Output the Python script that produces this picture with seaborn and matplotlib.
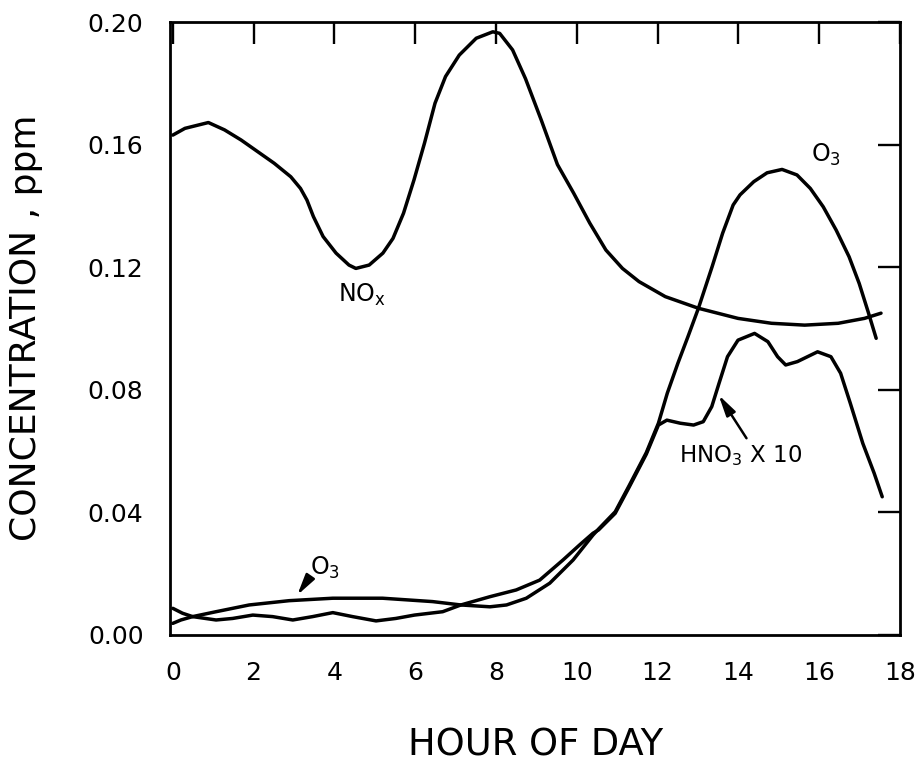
import matplotlib
matplotlib.use("Agg")
import matplotlib.pyplot as plt
import seaborn as sns
import pandas as pd

# ---- data ----
nox_hour = [0.0, 0.30, 0.88, 1.28, 1.69, 2.10, 2.51, 2.92, 3.16, 3.32, 3.48, 3.72, 4.04,
            4.36, 4.53, 4.86, 5.20, 5.45, 5.71, 5.97, 6.23, 6.49, 6.75, 7.09, 7.51, 7.92,
            8.09, 8.41, 8.73, 9.12, 9.52, 9.92, 10.32, 10.72, 11.13, 11.54, 12.19, 13.01,
            13.99, 14.82, 15.64, 16.47, 17.12, 17.53]
nox_ppm = [0.1631, 0.1653, 0.1672, 0.1648, 0.1615, 0.1577, 0.1539, 0.1495, 0.1457, 0.1419,
           0.1365, 0.1300, 0.1246, 0.1207, 0.1196, 0.1207, 0.1246, 0.1294, 0.1376, 0.1485,
           0.1605, 0.1735, 0.1822, 0.1892, 0.1947, 0.1968, 0.1963, 0.1909, 0.1815, 0.1680,
           0.1535, 0.1442, 0.1344, 0.1256, 0.1196, 0.1153, 0.1104, 0.1066, 0.1033, 0.1017,
           0.1011, 0.1017, 0.1033, 0.1050]

o3_hour = [0.0, 0.20, 0.49, 1.07, 1.89, 2.88, 3.96, 5.19, 6.43, 7.13, 7.85, 8.26, 8.75,
           9.33, 9.91, 10.40, 10.54, 10.95, 11.29, 11.72, 12.02, 12.24, 12.50, 12.75,
           13.01, 13.35, 13.61, 13.87, 14.04, 14.38, 14.71, 15.08, 15.45, 15.78, 16.10,
           16.42, 16.74, 16.99, 17.21, 17.41]
o3_ppm = [0.0038, 0.0049, 0.0060, 0.0076, 0.0098, 0.0112, 0.0120, 0.0120, 0.0109, 0.0098,
          0.0092, 0.0098, 0.0120, 0.0169, 0.0245, 0.0326, 0.0346, 0.0402, 0.0486, 0.0595,
          0.0691, 0.0789, 0.0886, 0.0973, 0.1066, 0.1202, 0.1311, 0.1403, 0.1436, 0.1479,
          0.1508, 0.1519, 0.1501, 0.1457, 0.1397, 0.1321, 0.1234, 0.1147, 0.1055, 0.0968]

hno3_hour = [0.0, 0.24, 0.49, 1.07, 1.48, 1.98, 2.47, 2.97, 3.46, 3.96, 4.45, 5.03, 5.52,
             5.98, 6.68, 7.13, 7.85, 8.50, 9.08, 9.66, 10.07, 10.40, 10.54, 10.95, 11.29,
             11.72, 12.02, 12.23, 12.56, 12.89, 13.13, 13.34, 13.52, 13.73, 13.99, 14.40,
             14.73, 14.97, 15.17, 15.46, 15.96, 16.29, 16.53, 16.77, 17.08, 17.36, 17.56]
hno3_ppm = [0.0087, 0.0071, 0.0060, 0.0049, 0.0054, 0.0065, 0.0060, 0.0049, 0.0060, 0.0073,
            0.0060, 0.0046, 0.0054, 0.0065, 0.0076, 0.0098, 0.0125, 0.0147, 0.0179, 0.0245,
            0.0294, 0.0332, 0.0343, 0.0397, 0.0481, 0.0590, 0.0685, 0.0701, 0.0691, 0.0685,
            0.0696, 0.0745, 0.0821, 0.0908, 0.0962, 0.0984, 0.0957, 0.0908, 0.0881, 0.0892,
            0.0924, 0.0908, 0.0854, 0.0756, 0.0625, 0.0528, 0.0451]

x_ticks = [0, 2, 4, 6, 8, 10, 12, 14, 16, 18]
y_ticks = [0.00, 0.04, 0.08, 0.12, 0.16, 0.20]
y_tick_labels = ["0.00", "0.04", "0.08", "0.12", "0.16", "0.20"]

# ---- plotting ----
sns.set_theme(style="white")
plt.rcParams["font.family"] = ["DejaVu Sans"]

W, H = 921, 765
fig = plt.figure(figsize=(W / 100, H / 100), dpi=100)
left, right, bottom, top = 170, 900, 635, 22
ax = fig.add_axes([left / W, 1 - bottom / H, (right - left) / W, (bottom - top) / H])

series = [(nox_hour, nox_ppm), (o3_hour, o3_ppm), (hno3_hour, hno3_ppm)]
for xs, ys in series:
    df = pd.DataFrame({"hour": xs, "ppm": ys})
    sns.lineplot(data=df, x="hour", y="ppm", ax=ax, color="black", lw=2.5,
                 sort=False, estimator=None)
for ln in ax.lines:
    ln.set_solid_joinstyle("round")
    ln.set_solid_capstyle("round")

ax.set_xlim(-0.07, 18.0)
ax.set_ylim(0, 0.20)
ax.set_xticks(x_ticks)
ax.set_xticklabels([str(t) for t in x_ticks])
ax.set_yticks(y_ticks)
ax.set_yticklabels(y_tick_labels)
ax.tick_params(axis="both", which="major", direction="in", top=True, right=True,
               length=16, width=1.7, color="black", labelsize=18, pad=19,
               labelcolor="black")
for sp in ax.spines.values():
    sp.set_visible(True)
    sp.set_linewidth(2.0)
    sp.set_color("black")

ax.set_xlabel("")
ax.set_ylabel("")
fig.text(26 / W, 1 - 328 / H, "CONCENTRATION , ppm", rotation=90, ha="center",
         va="center", fontsize=26, color="black")
fig.text(536 / W, 1 - 745 / H, "HOUR OF DAY", ha="center", va="center",
         fontsize=26.5, color="black")

# curve labels
ax.text(4.08, 0.1087, r"NO$_{\mathregular{x}}$", fontsize=17, ha="left",
        va="baseline", color="black")
ax.text(15.8, 0.1543, r"O$_{\mathregular{3}}$", fontsize=17, ha="left",
        va="baseline", color="black")
ax.text(12.52, 0.0564, r"HNO$_{\mathregular{3}}$ X 10", fontsize=16.5, ha="left",
        va="baseline", color="black")
ax.text(3.4, 0.0196, r"O$_{\mathregular{3}}$", fontsize=17, ha="left",
        va="baseline", color="black")

arrow = dict(arrowstyle="-|>,head_length=0.9,head_width=0.22", color="black",
             lw=1.8, shrinkA=0, shrinkB=0, mutation_scale=14)
ax.annotate("", xy=(13.51, 0.0783), xytext=(14.2, 0.0642), arrowprops=arrow)
ax.annotate("", xy=(3.08, 0.013), xytext=(3.37, 0.0185), arrowprops=arrow)

fig.savefig("out.png", dpi=100, facecolor="white")
